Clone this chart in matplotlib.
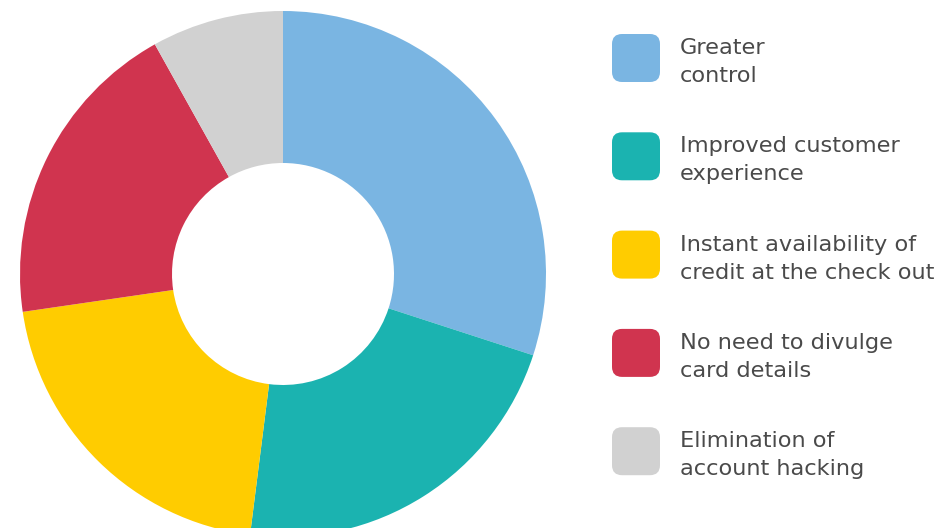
import matplotlib.pyplot as plt
from matplotlib.patches import FancyBboxPatch

# shares (percent)
labels = [
    ['Greater', 'control'],
    ['Improved customer', 'experience'],
    ['Instant availability of', 'credit at the check out'],
    ['No need to divulge', 'card details'],
    ['Elimination of', 'account hacking'],
]
shares = [30.0, 22.0, 20.7, 19.2, 8.1]
colors = ['#7AB5E2', '#1BB3B0', '#FFCC00', '#D0344F', '#D1D1D1']

W, H = 941, 528
fig = plt.figure(figsize=(W / 100, H / 100), dpi=100)
ax = fig.add_axes([0, 0, 1, 1])

# donut
cx, cy = 283, H - 274
r_out, r_in = 263, 111
ax.pie(shares, colors=colors, startangle=90, counterclock=False,
       center=(cx, cy), radius=r_out, frame=True,
       wedgeprops=dict(width=r_out - r_in, linewidth=0))
ax.set_xlim(0, W)
ax.set_ylim(0, H)
ax.set_aspect('equal')
ax.axis('off')

# size the font so the longest line is ~255 px wide, like the original
font = dict(family='DejaVu Sans', color='#4a4a4a', va='baseline', ha='left')
probe = ax.text(0, 0, 'credit at the check out', fontsize=15, **font)
fig.canvas.draw()
w = probe.get_window_extent().width
probe.remove()
fs = 15 * 255 / w

# legend, drawn by hand
sq = 48
top0 = 34
pitch = 98.3
for i, (lab, c) in enumerate(zip(labels, colors)):
    top = top0 + i * pitch
    ax.add_patch(FancyBboxPatch((612 + 10, H - top - sq + 10), sq - 20, sq - 20,
                                boxstyle='round,pad=10', fc=c, ec='none'))
    mid = top + sq / 2
    ax.text(680, H - (mid - 4), lab[0], fontsize=fs, **font)
    ax.text(680, H - (mid + 24), lab[1], fontsize=fs, **font)

fig.savefig('out.png', dpi=100)
